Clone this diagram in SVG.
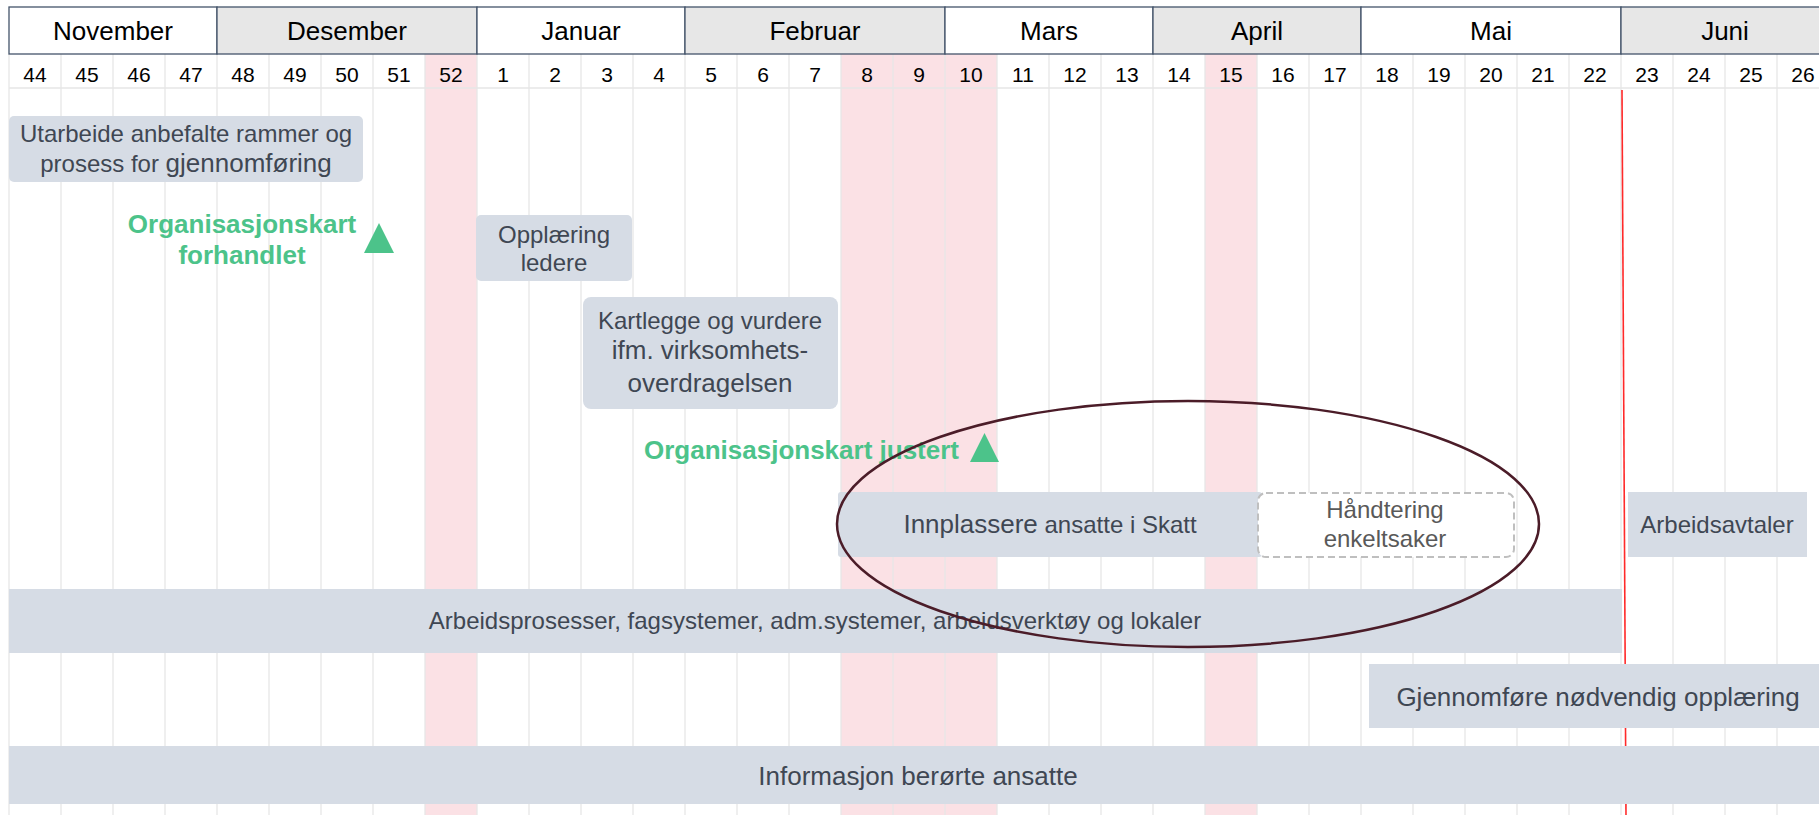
<svg xmlns="http://www.w3.org/2000/svg" width="1819" height="815" viewBox="0 0 1819 815">
<style>
.bg{fill:#ffffff}
.pink{fill:#fbe1e5}
.grid{stroke:#e6e6e6;stroke-width:1.3}
.mw{fill:#ffffff;stroke:#44546a;stroke-width:1.3}
.mg{fill:#e7e7e7;stroke:#44546a;stroke-width:1.3}
.mt{font-family:"Liberation Sans",Arial,sans-serif;font-size:26px;fill:#000;text-anchor:middle}
.wk{font-family:"Liberation Sans",Arial,sans-serif;font-size:21px;fill:#000;text-anchor:middle}
.bar{fill:#d6dce5}
.bt{font-family:"Liberation Sans",Arial,sans-serif;font-size:24px;fill:#3f4753;text-anchor:middle}
.big{font-size:26px}
.ms{font-family:"Liberation Sans",Arial,sans-serif;font-size:26px;font-weight:bold;fill:#4cc38a}
.tri{fill:#4cc38a}
.dash{fill:#ffffff;stroke:#bfbfbf;stroke-width:2;stroke-dasharray:7 4}
.gt{font-family:"Liberation Sans",Arial,sans-serif;font-size:24px;fill:#595959;text-anchor:middle}
</style>
<rect class="bg" x="0" y="0" width="1819" height="815"/>
<g id="holidays">
<rect class="pink" x="425" y="54" width="52" height="761"/>
<rect class="pink" x="841" y="54" width="156" height="761"/>
<rect class="pink" x="1205" y="54" width="52" height="761"/>
</g>
<g id="grid">
<line class="grid" x1="9" y1="88" x2="1819" y2="88"/>
<line class="grid" x1="9" y1="54" x2="9" y2="815"/>
<line class="grid" x1="61" y1="54" x2="61" y2="815"/>
<line class="grid" x1="113" y1="54" x2="113" y2="815"/>
<line class="grid" x1="165" y1="54" x2="165" y2="815"/>
<line class="grid" x1="217" y1="54" x2="217" y2="815"/>
<line class="grid" x1="269" y1="54" x2="269" y2="815"/>
<line class="grid" x1="321" y1="54" x2="321" y2="815"/>
<line class="grid" x1="373" y1="54" x2="373" y2="815"/>
<line class="grid" x1="425" y1="54" x2="425" y2="815"/>
<line class="grid" x1="477" y1="54" x2="477" y2="815"/>
<line class="grid" x1="529" y1="54" x2="529" y2="815"/>
<line class="grid" x1="581" y1="54" x2="581" y2="815"/>
<line class="grid" x1="633" y1="54" x2="633" y2="815"/>
<line class="grid" x1="685" y1="54" x2="685" y2="815"/>
<line class="grid" x1="737" y1="54" x2="737" y2="815"/>
<line class="grid" x1="789" y1="54" x2="789" y2="815"/>
<line class="grid" x1="841" y1="54" x2="841" y2="815"/>
<line class="grid" x1="893" y1="54" x2="893" y2="815"/>
<line class="grid" x1="945" y1="54" x2="945" y2="815"/>
<line class="grid" x1="997" y1="54" x2="997" y2="815"/>
<line class="grid" x1="1049" y1="54" x2="1049" y2="815"/>
<line class="grid" x1="1101" y1="54" x2="1101" y2="815"/>
<line class="grid" x1="1153" y1="54" x2="1153" y2="815"/>
<line class="grid" x1="1205" y1="54" x2="1205" y2="815"/>
<line class="grid" x1="1257" y1="54" x2="1257" y2="815"/>
<line class="grid" x1="1309" y1="54" x2="1309" y2="815"/>
<line class="grid" x1="1361" y1="54" x2="1361" y2="815"/>
<line class="grid" x1="1413" y1="54" x2="1413" y2="815"/>
<line class="grid" x1="1465" y1="54" x2="1465" y2="815"/>
<line class="grid" x1="1517" y1="54" x2="1517" y2="815"/>
<line class="grid" x1="1569" y1="54" x2="1569" y2="815"/>
<line class="grid" x1="1621" y1="54" x2="1621" y2="815"/>
<line class="grid" x1="1673" y1="54" x2="1673" y2="815"/>
<line class="grid" x1="1725" y1="54" x2="1725" y2="815"/>
<line class="grid" x1="1777" y1="54" x2="1777" y2="815"/>
</g>
<g id="months">
<rect class="mw" x="9" y="7" width="208" height="47"/>
<rect class="mg" x="217" y="7" width="260" height="47"/>
<rect class="mw" x="477" y="7" width="208" height="47"/>
<rect class="mg" x="685" y="7" width="260" height="47"/>
<rect class="mw" x="945" y="7" width="208" height="47"/>
<rect class="mg" x="1153" y="7" width="208" height="47"/>
<rect class="mw" x="1361" y="7" width="260" height="47"/>
<rect class="mg" x="1621" y="7" width="220" height="47"/>
<text class="mt" x="113" y="40">November</text>
<text class="mt" x="347" y="40">Desember</text>
<text class="mt" x="581" y="40">Januar</text>
<text class="mt" x="815" y="40">Februar</text>
<text class="mt" x="1049" y="40">Mars</text>
<text class="mt" x="1257" y="40">April</text>
<text class="mt" x="1491" y="40">Mai</text>
<text class="mt" x="1725" y="40">Juni</text>
</g>
<g id="weeks">
<text class="wk" x="35" y="82">44</text>
<text class="wk" x="87" y="82">45</text>
<text class="wk" x="139" y="82">46</text>
<text class="wk" x="191" y="82">47</text>
<text class="wk" x="243" y="82">48</text>
<text class="wk" x="295" y="82">49</text>
<text class="wk" x="347" y="82">50</text>
<text class="wk" x="399" y="82">51</text>
<text class="wk" x="451" y="82">52</text>
<text class="wk" x="503" y="82">1</text>
<text class="wk" x="555" y="82">2</text>
<text class="wk" x="607" y="82">3</text>
<text class="wk" x="659" y="82">4</text>
<text class="wk" x="711" y="82">5</text>
<text class="wk" x="763" y="82">6</text>
<text class="wk" x="815" y="82">7</text>
<text class="wk" x="867" y="82">8</text>
<text class="wk" x="919" y="82">9</text>
<text class="wk" x="971" y="82">10</text>
<text class="wk" x="1023" y="82">11</text>
<text class="wk" x="1075" y="82">12</text>
<text class="wk" x="1127" y="82">13</text>
<text class="wk" x="1179" y="82">14</text>
<text class="wk" x="1231" y="82">15</text>
<text class="wk" x="1283" y="82">16</text>
<text class="wk" x="1335" y="82">17</text>
<text class="wk" x="1387" y="82">18</text>
<text class="wk" x="1439" y="82">19</text>
<text class="wk" x="1491" y="82">20</text>
<text class="wk" x="1543" y="82">21</text>
<text class="wk" x="1595" y="82">22</text>
<text class="wk" x="1647" y="82">23</text>
<text class="wk" x="1699" y="82">24</text>
<text class="wk" x="1751" y="82">25</text>
<text class="wk" x="1803" y="82">26</text>
</g>
<g id="today">
<line x1="1622" y1="90" x2="1626" y2="815" stroke="#ff2a2a" stroke-width="1.6"/>
</g>
<g id="utarbeide">
<rect class="bar" x="9" y="116" width="354" height="66" rx="5"/>
<text class="bt" x="186" y="142">Utarbeide anbefalte rammer og</text>
<text class="bt" x="186" y="172">prosess for <tspan class="big">gjennomføring</tspan></text>
</g>
<g id="ms-forhandlet">
<text class="ms" x="242" y="233" text-anchor="middle">Organisasjonskart</text>
<text class="ms" x="242" y="264" text-anchor="middle">forhandlet</text>
<polygon class="tri" points="364,253 379,223 394,253"/>
</g>
<g id="opplaering-ledere">
<rect class="bar" x="476" y="215" width="156" height="66" rx="5"/>
<text class="bt" x="554" y="243">Opplæring</text>
<text class="bt" x="554" y="271">ledere</text>
</g>
<g id="kartlegge">
<rect class="bar" x="583" y="297" width="255" height="112" rx="8"/>
<text class="bt" x="710" y="329">Kartlegge og vurdere</text>
<text class="bt big" x="710" y="359">ifm. virksomhets-</text>
<text class="bt big" x="710" y="392">overdragelsen</text>
</g>
<g id="ms-justert">
<text class="ms" x="959" y="459" text-anchor="end">Organisasjonskart justert</text>
<polygon class="tri" points="970,462 984.5,433 999,462"/>
</g>
<g id="innplassere">
<rect class="bar" x="838" y="492" width="424" height="65" rx="3"/>
<text class="bt" x="1050" y="533"><tspan class="big">Innplassere</tspan> ansatte i Skatt</text>
</g>
<g id="handtering">
<rect class="dash" x="1258" y="493" width="256" height="64" rx="8"/>
<text class="gt" x="1385" y="518">Håndtering</text>
<text class="gt" x="1385" y="547">enkeltsaker</text>
</g>
<g id="arbeidsavtaler">
<rect class="bar" x="1628" y="492" width="179" height="65"/>
<text class="bt" x="1717" y="533">Arbeidsavtaler</text>
</g>
<g id="arbeidsprosesser">
<rect class="bar" x="9" y="589" width="1613" height="64"/>
<text class="bt" x="815" y="629">Arbeidsprosesser, fagsystemer, adm.systemer, arbeidsverktøy og lokaler</text>
</g>
<g id="gjennomfore">
<rect class="bar" x="1369" y="664" width="450" height="64"/>
<text class="bt big" x="1598" y="706">Gjennomføre nødvendig opplæring</text>
</g>
<g id="informasjon">
<rect class="bar" x="9" y="746" width="1810" height="58"/>
<text class="bt big" x="918" y="785">Informasjon berørte ansatte</text>
</g>
<g id="connectors">
<ellipse cx="1188" cy="524" rx="351" ry="123" fill="none" stroke="#4b1c28" stroke-width="2.5"/>
</g>
</svg>
